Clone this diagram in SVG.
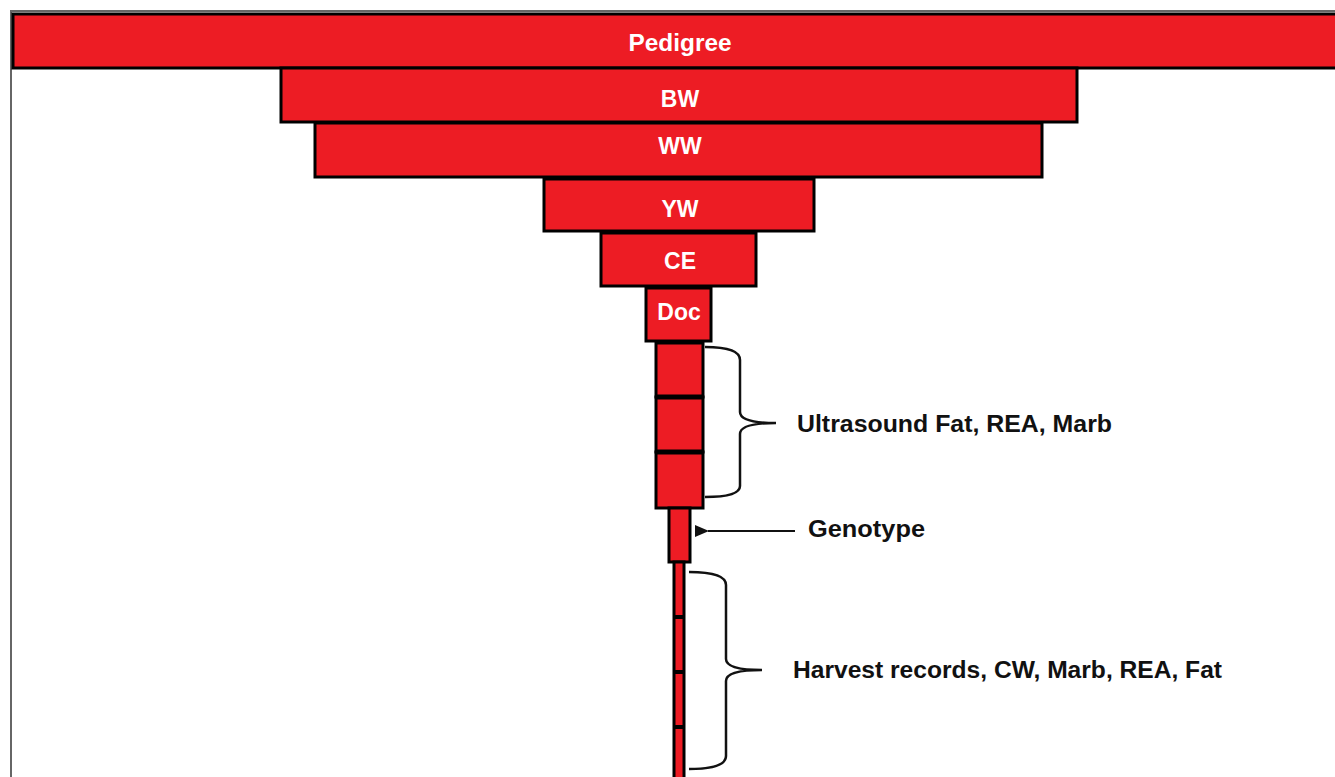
<svg xmlns="http://www.w3.org/2000/svg" width="1335" height="777" viewBox="0 0 1335 777">
<defs>
<style>
.bar{fill:#ED1C24;stroke:#000;stroke-width:3}
.lbl{font-family:"Liberation Sans",Arial,sans-serif;font-weight:bold;font-size:23px;fill:#fff;text-anchor:middle}
.ann{font-family:"Liberation Sans",Arial,sans-serif;font-weight:bold;font-size:23px;fill:#111}
.brace{fill:none;stroke:#111;stroke-width:2.5}
</style>
<marker id="ah" markerWidth="14" markerHeight="12" refX="1" refY="6" orient="auto-start-reverse" markerUnits="userSpaceOnUse">
<path d="M14,0 L0,6 L14,12 Z" fill="#111"/>
</marker>
</defs>
<rect x="0" y="0" width="1335" height="777" fill="#fff"/>
<path d="M11,777 V11 H1335" fill="none" stroke="#666" stroke-width="2"/>
<g id="pedigree"><rect class="bar" x="13" y="14" width="1330" height="54"/><text class="lbl" x="680" y="51" textLength="103" lengthAdjust="spacingAndGlyphs">Pedigree</text></g>
<g id="bw"><rect class="bar" x="281" y="68" width="796" height="54"/><text class="lbl" x="680" y="107">BW</text></g>
<g id="ww"><rect class="bar" x="315" y="123" width="727" height="54"/><text class="lbl" x="680" y="154">WW</text></g>
<g id="yw"><rect class="bar" x="544" y="179" width="270" height="52"/><text class="lbl" x="680" y="217">YW</text></g>
<g id="ce"><rect class="bar" x="601" y="233" width="155" height="53"/><text class="lbl" x="680" y="269">CE</text></g>
<g id="doc"><rect class="bar" x="646" y="288" width="65" height="53"/><text class="lbl" x="679" y="320">Doc</text></g>
<g id="ultrasound">
<rect class="bar" x="656" y="343" width="47" height="54"/>
<rect class="bar" x="656" y="397" width="47" height="55"/>
<rect class="bar" x="656" y="452" width="47" height="56"/>
<path d="M656,397 H703 M656,452 H703" stroke="#000" stroke-width="5"/>
</g>
<g id="genotype"><rect class="bar" x="669" y="508" width="21" height="54"/></g>
<g id="harvest">
<rect class="bar" x="674" y="562" width="10" height="230"/>
<path d="M674,617 H684 M674,672 H684 M674,727 H684" stroke="#000" stroke-width="4"/>
</g>
<g id="connectors">
<path class="brace" d="M705,347 Q740,347 740,360 V412 Q740,423 776,423 Q740,423 740,434 V486 Q740,497 705,497"/>
<line x1="795" y1="531" x2="708" y2="531" stroke="#111" stroke-width="2" marker-end="url(#ah)"/>
<path class="brace" d="M689,572 Q726,572 726,585 V659 Q726,670 762,670 Q726,670 726,681 V756 Q726,769 689,769"/>
</g>
<g id="labels">
<text class="ann" x="797" y="432" textLength="315" lengthAdjust="spacingAndGlyphs">Ultrasound Fat, REA, Marb</text>
<text class="ann" x="808" y="537" textLength="117" lengthAdjust="spacingAndGlyphs">Genotype</text>
<text class="ann" x="793" y="678" textLength="429" lengthAdjust="spacingAndGlyphs">Harvest records, CW, Marb, REA, Fat</text>
</g>
</svg>
